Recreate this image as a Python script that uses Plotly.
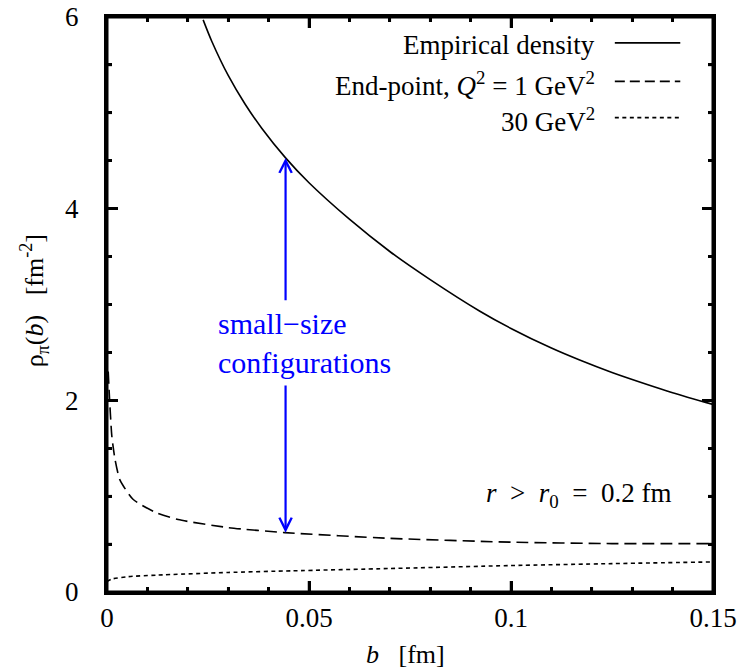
import numpy as np
import plotly.graph_objects as go

# ---- data ----
b_emp = [0.0238, 0.0259, 0.030, 0.0342, 0.0383, 0.0442, 0.050, 0.060, 0.070, 0.080,
         0.0923, 0.100, 0.110, 0.117, 0.125, 0.1337, 0.140, 0.150]
rho_emp = [5.97, 5.75, 5.39, 5.09, 4.84, 4.53, 4.27, 3.89, 3.553, 3.26,
           2.93, 2.75, 2.545, 2.42, 2.29, 2.165, 2.08, 1.957]

b_q1 = [0.0003, 0.0006, 0.0012, 0.0020, 0.0032, 0.0065, 0.0123, 0.0176, 0.030, 0.044,
        0.070, 0.100, 0.125, 0.150]
rho_q1 = [2.30, 2.04, 1.625, 1.38, 1.17, 0.965, 0.826, 0.756, 0.672, 0.620,
          0.560, 0.520, 0.505, 0.505]

b_q30 = [0.0, 0.0012, 0.0052, 0.0123, 0.030, 0.0458, 0.070, 0.100, 0.125, 0.150]
rho_q30 = [0.11, 0.135, 0.160, 0.176, 0.204, 0.221, 0.245, 0.276, 0.296, 0.314]

x_ticks = [0, 0.05, 0.1, 0.15]
x_ticktext = ["0", "0.05", "0.1", "0.15"]
x_minor_step = 0.01
y_ticks = [0, 2, 4, 6]
y_ticktext = ["0", "2", "4", "6"]
y_minor_step = 0.5

legend_labels = ["Empirical density",
                 "End-point, <i>Q</i><sup>2</sup> = 1 GeV<sup>2</sup>",
                 "30 GeV<sup>2</sup>"]

x_title = "<i>b</i>\u00a0\u00a0 [fm]"
y_title = "\u03c1<sub>\u03c0</sub>(<i>b</i>)\u00a0\u00a0 [fm<sup>-2</sup>]"
arrow_b = 0.0442
arrow_label = "small\u2212size<br>configurations"
cut_label = "<i>r</i>\u00a0 >\u00a0 <i>r</i><sub>0</sub>\u00a0 =\u00a0 0.2 fm"

FONT = "Liberation Serif"
BLUE = "#0000ff"
W, H = 739, 672
M = dict(l=107, r=26, t=17, b=80)
PW, PH = W - M["l"] - M["r"], H - M["t"] - M["b"]
MAJ_LEN, MIN_LEN = 11, 5

fig = go.Figure()
fig.add_trace(go.Scatter(x=b_emp, y=rho_emp, mode="lines", name="Empirical density",
                         line=dict(color="black", width=1.6, shape="spline", smoothing=0.8)))
fig.add_trace(go.Scatter(x=b_q1, y=rho_q1, mode="lines", name="Q2=1",
                         line=dict(color="black", width=1.6, dash="12px,6px",
                                   shape="spline", smoothing=0.6)))
fig.add_trace(go.Scatter(x=b_q30, y=rho_q30, mode="lines", name="Q2=30",
                         line=dict(color="black", width=1.6, dash="4px,3.5px",
                                   shape="spline", smoothing=0.6)))

top_tip = float(np.interp(arrow_b, b_emp, rho_emp))
bot_tip = float(np.interp(arrow_b, b_q1, rho_q1))
gap_top, gap_bot = 3.03, 2.17

for tip, start in ((top_tip, gap_top), (bot_tip, gap_bot)):
    fig.add_annotation(x=arrow_b, y=tip, ax=arrow_b, ay=start, axref="x", ayref="y",
                       xref="x", yref="y", showarrow=True, arrowhead=5, arrowsize=1.1,
                       arrowwidth=2.2, arrowcolor=BLUE, text="")
fig.add_annotation(x=0.0271, y=2.60, xref="x", yref="y", xanchor="left", yanchor="middle",
                   align="left", showarrow=False, text=arrow_label,
                   font=dict(family=FONT, size=30, color=BLUE))

fig.add_annotation(x=0.934, y=0.169, xref="paper", yref="paper", xanchor="right",
                   yanchor="middle", showarrow=False, text=cut_label,
                   font=dict(family=FONT, size=27, color="black"))

fig.add_annotation(x=0.492, y=-0.109, xref="paper", yref="paper", xanchor="center",
                   yanchor="middle", showarrow=False, text=x_title,
                   font=dict(family=FONT, size=26, color="black"))
fig.add_annotation(x=-0.119, y=0.507, xref="paper", yref="paper", xanchor="center",
                   yanchor="middle", showarrow=False, text=y_title, textangle=-90,
                   font=dict(family=FONT, size=26, color="black"))

leg_y = [0.951, 0.884, 0.821]
leg_dash = ["solid", "10px,5px", "4px,3.5px"]
for lab, yy, dsh in zip(legend_labels, leg_y, leg_dash):
    fig.add_annotation(x=0.809, y=yy, xref="paper", yref="paper", xanchor="right",
                       yanchor="middle", showarrow=False, text=lab,
                       font=dict(family=FONT, size=27, color="black"))
    fig.add_shape(type="line", xref="paper", yref="paper", x0=0.838, x1=0.946,
                  y0=yy + 0.004, y1=yy + 0.004, line=dict(color="black", width=1.6, dash=dsh))

# frame
fig.add_shape(type="rect", xref="paper", yref="paper", x0=0, x1=1, y0=0, y1=1,
              line=dict(color="black", width=3), layer="above")

# inward ticks on all four sides, built from the axis tick definitions
x_lo, x_hi = x_ticks[0], x_ticks[-1]
y_lo, y_hi = y_ticks[0], y_ticks[-1]
tick_line = dict(color="black", width=2.5)

n_xm = int(round((x_hi - x_lo) / x_minor_step))
for k in range(1, n_xm):
    xv = x_lo + k * x_minor_step
    xp = (xv - x_lo) / (x_hi - x_lo)
    major = any(abs(xv - t) < 1e-9 for t in x_ticks)
    ln = (MAJ_LEN if major else MIN_LEN) / PH
    fig.add_shape(type="line", xref="paper", yref="paper", x0=xp, x1=xp, y0=0, y1=ln,
                  line=tick_line, layer="above")
    fig.add_shape(type="line", xref="paper", yref="paper", x0=xp, x1=xp, y0=1, y1=1 - ln,
                  line=tick_line, layer="above")

n_ym = int(round((y_hi - y_lo) / y_minor_step))
for k in range(1, n_ym):
    yv = y_lo + k * y_minor_step
    yp = (yv - y_lo) / (y_hi - y_lo)
    major = any(abs(yv - t) < 1e-9 for t in y_ticks)
    ln = (MAJ_LEN if major else MIN_LEN) / PW
    fig.add_shape(type="line", xref="paper", yref="paper", x0=0, x1=ln, y0=yp, y1=yp,
                  line=tick_line, layer="above")
    fig.add_shape(type="line", xref="paper", yref="paper", x0=1, x1=1 - ln, y0=yp, y1=yp,
                  line=tick_line, layer="above")

axis_common = dict(showgrid=False, zeroline=False, showline=True, linecolor="black",
                   linewidth=3, mirror="ticks", ticks="inside", ticklen=MAJ_LEN,
                   tickwidth=2.5, tickcolor="black", automargin=False,
                   tickfont=dict(family=FONT, size=27, color="black"))

fig.update_xaxes(range=[x_lo, x_hi], tickvals=x_ticks, ticktext=x_ticktext,
                 minor=dict(ticks="inside", dtick=x_minor_step, ticklen=MIN_LEN,
                            tickwidth=2.5, tickcolor="black", showgrid=False),
                 ticklabelstandoff=0, **axis_common)
fig.update_yaxes(range=[y_lo, y_hi], tickvals=y_ticks, ticktext=y_ticktext,
                 minor=dict(ticks="inside", dtick=y_minor_step, ticklen=MIN_LEN,
                            tickwidth=2.5, tickcolor="black", showgrid=False),
                 ticklabelstandoff=20, **axis_common)

fig.update_layout(width=W, height=H, autosize=False, showlegend=False,
                  plot_bgcolor="white", paper_bgcolor="white", margin=M,
                  font=dict(family=FONT, size=26, color="black"))

fig.write_html("out.html", config={"displayModeBar": False},
               post_script="document.body.style.margin='0';"
                           "document.body.style.overflow='hidden';")
